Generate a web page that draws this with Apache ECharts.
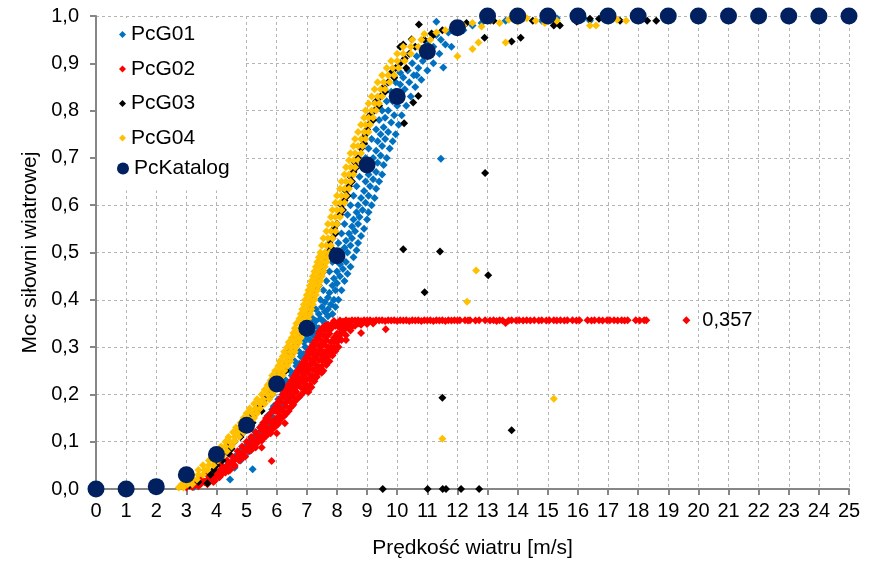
<!DOCTYPE html>
<html><head><meta charset="utf-8">
<script src="https://cdn.jsdelivr.net/npm/echarts/dist/echarts.min.js"></script>
<style>html,body{margin:0;padding:0;background:#fff}#c{width:873px;height:565px}</style>
</head><body><div id="c"></div><script>
const seriesNames = ['PcG01','PcG02','PcG03','PcG04','PcKatalog'];
const xTitle = 'Prędkość wiatru [m/s]';
const yTitle = 'Moc siłowni wiatrowej';

const pcKatalog = [[0,0],[1,0],[2,0.005],[3,0.03],[4,0.073],[5,0.135],[6,0.222],[7,0.34],[8,0.493],[9,0.685],[10,0.83],[11,0.925],[12,0.975],[13,1],[14,1],[15,1],[16,1],[17,1],[18,1],[19,1],[20,1],[21,1],[22,1],[23,1],[24,1],[25,1]];

const pcG01 = [[3.25,0.004],[3.35,0.012],[3.6,0.015],[3.75,0.022],[3.9,0.02],[4.0,0.032],[4.1,0.028],[4.2,0.04],[4.3,0.038],[4.45,0.02],[4.35,0.05],[4.45,0.055],[4.55,0.06],[4.6,0.068],[4.7,0.072],[4.8,0.078],[4.85,0.085],[4.95,0.09],[5.05,0.095],[5.2,0.042],[5.1,0.1],[5.15,0.108],[5.25,0.112],[5.3,0.12],[5.4,0.118],[5.45,0.13],[5.5,0.135],[5.6,0.14],[5.65,0.148],[5.7,0.155],[5.8,0.16],[5.85,0.168],[5.9,0.175],[6.0,0.18],[6.05,0.19],[6.1,0.185],[6.2,0.2],[6.15,0.21],[6.3,0.205],[6.35,0.22],[6.3,0.23],[6.45,0.225],[6.5,0.24],[6.45,0.25],[6.6,0.245],[6.65,0.26],[6.6,0.27],[6.75,0.265],[6.8,0.28],[6.75,0.29],[6.9,0.285],[6.95,0.3],[7.05,0.295],[6.9,0.31],[7.1,0.315],[7.0,0.32],[7.2,0.325],[7.1,0.335],[7.3,0.33],[7.25,0.345],[7.4,0.34],[7.3,0.355],[7.45,0.36],[7.55,0.355],[7.4,0.37],[7.6,0.375],[7.5,0.385],[7.7,0.38],[7.6,0.395],[7.8,0.39],[7.7,0.405],[7.9,0.4],[7.75,0.415],[7.95,0.42],[7.85,0.43],[8.0,0.435],[7.9,0.445],[8.1,0.45],[8.0,0.46],[8.2,0.465],[8.1,0.475],[8.3,0.48],[8.15,0.49],[8.35,0.5],[8.25,0.51],[8.45,0.515],[8.3,0.525],[8.5,0.53],[8.4,0.54],[8.6,0.545],[8.5,0.555],[8.7,0.56],[8.55,0.57],[8.75,0.575],[8.65,0.585],[8.85,0.59],[8.7,0.6],[8.95,0.605],[8.8,0.615],[9.05,0.62],[8.9,0.63],[9.1,0.64],[8.95,0.65],[9.2,0.655],[9.05,0.665],[9.3,0.67],[9.1,0.68],[9.35,0.69],[9.2,0.7],[9.45,0.705],[9.3,0.715],[9.5,0.725],[9.35,0.735],[9.6,0.74],[9.45,0.75],[9.7,0.755],[9.55,0.765],[9.8,0.775],[9.6,0.785],[9.9,0.79],[9.7,0.8],[10.0,0.81],[9.85,0.82],[10.1,0.83],[9.95,0.84],[10.25,0.845],[10.1,0.855],[10.4,0.86],[10.2,0.87],[10.55,0.875],[10.35,0.885],[10.7,0.89],[10.5,0.9],[10.85,0.905],[10.65,0.915],[11.0,0.92],[10.8,0.93],[11.2,0.935],[11.0,0.945],[11.45,0.95],[11.3,0.96],[11.7,0.965],[11.9,0.975],[12.2,0.97],[12.5,0.98],[12.8,0.985],[13.1,0.99],[13.6,0.99],[14.2,0.995],[14.8,0.99],[15.3,0.995],[16.2,0.995],[16.4,0.99],[11.45,0.698],[11.53,0.891],[11.8,0.935],[11.3,0.988],[10.65,0.875],
[6.45,0.195],[6.55,0.215],[6.7,0.235],[6.85,0.255],[6.95,0.275],[7.1,0.29],[7.25,0.305],[7.35,0.32],[7.45,0.335],[7.6,0.35],[7.7,0.365],[7.85,0.37],[7.95,0.385],[8.05,0.4],[8.15,0.42],[8.25,0.44],[8.35,0.455],[8.45,0.47],[8.55,0.49],[8.65,0.505],[8.7,0.52],[8.8,0.535],[8.9,0.55],[9.0,0.57],[9.05,0.585],[9.15,0.6],[9.25,0.615],[9.3,0.635],[9.4,0.65],[9.5,0.665],[9.55,0.685],[9.65,0.7],[9.75,0.72],[9.85,0.735],[9.95,0.75],[10.05,0.77],[10.15,0.79],[10.3,0.81],[10.45,0.83],[10.6,0.85],[10.8,0.865],[11.0,0.885],[11.2,0.9],[11.4,0.92],[11.6,0.94],
[7.2,0.36],[7.3,0.38],[7.45,0.4],[7.55,0.42],[7.65,0.44],[7.75,0.46],[7.85,0.48],[7.95,0.5],[8.05,0.52],[8.15,0.54],[8.25,0.56],[8.35,0.58],[8.45,0.6],[8.55,0.62],[8.65,0.64],[8.75,0.66],[8.85,0.68],[8.95,0.7],[9.05,0.72],[9.15,0.74],[9.3,0.76],[9.4,0.78],[9.5,0.8],[9.65,0.82],[9.8,0.84],[9.95,0.86],[10.1,0.88],
[5.3,0.095],[5.45,0.105],[5.6,0.12],[5.75,0.135],[5.9,0.15],[6.05,0.165],[6.2,0.175],[6.35,0.19],[4.6,0.045],[4.8,0.06],[4.95,0.07],[5.1,0.08]];

const pcG02 = [[3.0,0.003],[3.2,0.004],[3.4,0.006],[3.3,0.01],[3.5,0.012],[3.7,0.01],[3.5,0.02],[3.75,0.022],[3.95,0.018],[3.7,0.03],[3.95,0.028],[4.2,0.032],[3.95,0.04],[4.15,0.042],[4.4,0.038],[4.15,0.05],[4.4,0.052],[4.6,0.048],[4.35,0.06],[4.55,0.058],[4.8,0.062],[4.5,0.07],[4.75,0.072],[4.95,0.068],[4.7,0.08],[4.9,0.078],[5.15,0.082],[4.85,0.09],[5.1,0.092],[5.3,0.088],[5.0,0.1],[5.25,0.1],[5.5,0.102],[5.15,0.11],[5.4,0.108],[5.65,0.112],[5.3,0.12],[5.55,0.122],[5.8,0.118],[5.45,0.13],[5.7,0.128],[5.95,0.132],[5.55,0.14],[5.8,0.142],[6.05,0.138],[5.65,0.15],[5.95,0.148],[6.2,0.152],[5.8,0.16],[6.05,0.162],[6.3,0.158],[5.9,0.17],[6.15,0.168],[6.45,0.172],[6.0,0.18],[6.3,0.182],[6.55,0.178],[6.1,0.19],[6.4,0.188],[6.7,0.192],[6.2,0.2],[6.5,0.202],[6.8,0.198],[6.3,0.21],[6.6,0.208],[6.9,0.212],[6.4,0.22],[6.7,0.222],[7.0,0.218],[6.5,0.23],[6.8,0.228],[7.1,0.232],[6.6,0.24],[6.9,0.242],[7.2,0.238],[6.7,0.25],[7.0,0.248],[7.3,0.252],[6.8,0.26],[7.1,0.262],[7.4,0.258],[6.9,0.27],[7.2,0.268],[7.5,0.272],[7.0,0.28],[7.3,0.282],[7.6,0.278],[7.05,0.29],[7.4,0.288],[7.7,0.292],[7.15,0.3],[7.45,0.302],[7.8,0.298],[7.25,0.31],[7.55,0.308],[7.9,0.312],[7.35,0.32],[7.65,0.322],[8.0,0.318],[7.4,0.33],[7.75,0.328],[8.15,0.332],[7.5,0.34],[7.85,0.342],[8.25,0.338],[8.5,0.343],[7.7,0.348],[8.0,0.35],[8.35,0.348],[8.7,0.35],[9.0,0.349],
[3.6,0.015],[3.85,0.025],[4.05,0.035],[4.3,0.045],[4.5,0.055],[4.65,0.065],[4.85,0.072],[5.0,0.085],[5.2,0.095],[5.35,0.097],[5.55,0.107],[5.7,0.117],[5.85,0.126],[6.0,0.135],[6.1,0.145],[6.25,0.155],[6.4,0.165],[6.5,0.175],[6.6,0.185],[6.75,0.195],[6.9,0.205],[7.0,0.21],[7.1,0.22],[7.2,0.23],[7.3,0.24],[7.4,0.25],[7.5,0.26],[7.6,0.27],[7.7,0.28],[7.8,0.29],[7.9,0.3],[8.0,0.31],[8.1,0.325],[8.2,0.335],[8.4,0.34],[8.6,0.345],[8.8,0.347],[9.2,0.35],
[6.35,0.215],[6.45,0.225],[6.55,0.235],[6.65,0.245],[6.75,0.255],[6.85,0.265],[6.95,0.275],[7.05,0.285],[7.1,0.295],[7.2,0.305],[7.3,0.315],[7.4,0.325],[7.45,0.335],[7.6,0.345],[5.95,0.165],[6.05,0.175],[6.15,0.185],[6.25,0.195],[5.6,0.135],[5.7,0.145],[5.75,0.155],[5.2,0.105],[5.35,0.115],[5.5,0.125],
[6.65,0.215],[6.75,0.225],[6.85,0.235],[6.95,0.245],[7.05,0.255],[7.15,0.265],[7.25,0.275],[7.35,0.285],[7.45,0.295],[7.55,0.305],[7.65,0.315],[7.75,0.335],[7.95,0.345],[8.15,0.347],[8.45,0.352],[8.65,0.353],[8.9,0.354],
[6.45,0.185],[6.55,0.195],[6.65,0.205],[6.8,0.215],[6.9,0.225],[7.0,0.232],[7.1,0.242],[7.2,0.252],[7.3,0.262],[7.4,0.272],[7.5,0.282],[7.6,0.29],[7.7,0.3],[7.8,0.31],[7.9,0.32],[8.0,0.328],[8.1,0.34],[8.3,0.345],
[6.2,0.165],[6.3,0.175],[6.1,0.155],[6.0,0.148],[5.9,0.14],[5.8,0.13],[5.65,0.12],[5.5,0.11],[5.35,0.1],[5.2,0.09],[5.05,0.08],[4.9,0.07],[4.75,0.06],[4.6,0.05],[4.45,0.04],[4.3,0.035],[4.1,0.025],[3.9,0.015],
[6.25,0.205],[6.35,0.2],[6.45,0.21],[6.55,0.22],[6.6,0.23],[6.7,0.238],[6.8,0.248],[6.9,0.258],[7.0,0.265],[7.1,0.275],[7.2,0.285],[7.25,0.295],[7.35,0.305],[7.45,0.315],[7.55,0.325],[7.6,0.335],[7.7,0.34],[7.85,0.35],
[7.05,0.205],[7.15,0.215],[7.25,0.228],[7.35,0.245],[7.55,0.25],[7.65,0.262],[7.75,0.27],[7.85,0.282],[7.95,0.292],[8.05,0.3],[8.15,0.315],[8.3,0.325],[8.45,0.335],
[7.9,0.355],[8.1,0.356],[8.2,0.354],[8.3,0.357],[8.4,0.355],[8.5,0.357],[8.6,0.356],[8.7,0.357],[8.8,0.355],[8.9,0.357],[9.0,0.356],[9.1,0.357],[9.2,0.355],[9.3,0.357],[9.4,0.356],[9.5,0.357],[9.6,0.355],[9.7,0.357],[9.8,0.356],[9.9,0.357],[10.0,0.355],[10.1,0.357],[10.2,0.356],[10.3,0.357],[10.4,0.355],[10.5,0.357],[10.6,0.356],[10.7,0.357],[10.8,0.355],[10.9,0.357],[11.0,0.356],[11.1,0.357],[11.2,0.355],[11.3,0.357],[11.4,0.356],[11.5,0.357],[11.6,0.355],[11.7,0.357],[11.8,0.356],[11.9,0.357],[12.0,0.356],[12.08,0.357],[12.25,0.357],[12.35,0.356],[12.42,0.357],[12.6,0.356],[12.72,0.357],[12.92,0.357],[13.08,0.356],[13.2,0.357],[13.3,0.355],[13.4,0.357],[13.5,0.356],[13.6,0.351],[13.7,0.356],[13.8,0.357],[13.95,0.356],[14.05,0.357],[14.18,0.356],[14.3,0.357],[14.42,0.356],[14.55,0.357],[14.7,0.356],[14.8,0.357],[14.95,0.356],[15.05,0.357],[15.2,0.357],[15.3,0.356],[15.42,0.357],[15.55,0.356],[15.65,0.357],[15.82,0.357],[15.95,0.356],[16.05,0.357],[16.32,0.357],[16.45,0.356],[16.55,0.357],[16.7,0.357],[16.82,0.356],[16.97,0.357],[17.06,0.357],[17.2,0.357],[17.32,0.356],[17.45,0.357],[17.55,0.356],[17.65,0.357],[17.92,0.357],[18.05,0.356],[18.2,0.357],[18.27,0.357],
[9.62,0.338],[5.83,0.059],[6.27,0.139],[7.33,0.237],[7.49,0.246],[6.0,0.118],[5.5,0.088],[7.7,0.29],[8.3,0.315],[8.8,0.33],[4.2,0.047],
[19.6,0.357]];

const pcG03 = [[3.1,0.008],[3.7,0.012],[3.8,0.03],[4.0,0.05],[4.2,0.06],[4.4,0.075],[4.35,0.09],[4.6,0.1],[4.8,0.11],[4.75,0.125],[5.0,0.13],[5.1,0.15],[5.3,0.16],[5.45,0.175],[5.6,0.19],[5.75,0.2],[5.9,0.215],[6.0,0.235],[6.1,0.245],[6.25,0.26],[6.35,0.27],[6.4,0.29],[6.55,0.3],[6.7,0.31],[6.75,0.33],[6.85,0.34],[6.9,0.36],[7.05,0.37],[7.1,0.39],[7.2,0.41],[7.3,0.42],[7.35,0.44],[7.45,0.45],[7.5,0.47],[7.6,0.48],[7.7,0.5],[7.75,0.52],[7.85,0.53],[7.9,0.55],[8.0,0.56],[8.1,0.58],[8.15,0.6],[8.25,0.61],[8.3,0.63],[8.4,0.64],[8.45,0.66],[8.55,0.67],[8.6,0.69],[8.7,0.7],[8.8,0.72],[8.85,0.74],[8.95,0.75],[9.05,0.77],[9.1,0.79],[9.25,0.8],[9.3,0.82],[9.45,0.83],[9.55,0.85],[9.7,0.86],[9.8,0.88],[9.95,0.89],[10.1,0.9],[10.25,0.91],[10.4,0.92],[10.6,0.935],[10.2,0.94],[10.9,0.95],[11.2,0.96],[11.5,0.97],[11.9,0.975],[12.3,0.985],[12.9,0.954],[13.8,0.946],[14.1,0.954],[13.2,0.99],[14.5,0.99],[15.2,0.98],[15.4,0.98],[15.96,0.988],[16.4,0.994],[16.7,0.994],[17.4,0.99],[18.3,0.99],[18.6,0.99],
[6.15,0.225],[6.5,0.285],[6.95,0.35],[7.15,0.38],[7.4,0.43],[7.55,0.46],[7.65,0.49],[7.8,0.51],[7.95,0.54],[8.2,0.59],[8.35,0.62],[8.5,0.65],[8.65,0.68],[8.9,0.73],[9.0,0.76],[9.2,0.78],[9.4,0.81],[9.6,0.84],[9.9,0.87],[10.3,0.89],[4.9,0.12],[5.2,0.14],[5.5,0.165],[5.85,0.2],[6.3,0.25],[3.4,0.015],[3.9,0.04],[4.5,0.085],
[10.23,0.773],[10.7,0.831],[10.53,0.817],[10.72,0.982],[10.48,0.951],[10.1,0.935],[11.14,0.963],[12.92,0.668],[11.42,0.502],[10.2,0.507],[13.02,0.452],[10.91,0.416],[11.5,0.193],[13.8,0.124],[9.52,0],[11.01,0],[11.51,0],[11.62,0],[12.12,0],[12.72,0]];

const pcG04 = [[2.75,0.003],[2.9,0.003],[2.85,0.01],[3.05,0.01],[3.2,0.01],[3.0,0.02],[3.2,0.02],[3.35,0.02],[3.2,0.03],[3.4,0.03],[3.55,0.03],[3.4,0.04],[3.6,0.04],[3.7,0.04],[3.55,0.05],[3.75,0.05],[3.9,0.05],[3.75,0.06],[3.9,0.06],[4.05,0.06],[3.85,0.07],[4.05,0.07],[4.2,0.07],[4.0,0.08],[4.2,0.08],[4.35,0.08],[4.15,0.09],[4.3,0.09],[4.5,0.09],[4.3,0.1],[4.45,0.1],[4.6,0.1],[4.4,0.11],[4.6,0.11],[4.75,0.11],[4.55,0.12],[4.7,0.12],[4.9,0.12],[4.65,0.13],[4.85,0.13],[5.0,0.13],[4.8,0.14],[4.95,0.14],[5.1,0.14],[4.9,0.15],[5.05,0.15],[5.25,0.15],[5.0,0.16],[5.2,0.16],[5.35,0.16],[5.1,0.17],[5.3,0.17],[5.45,0.17],[5.25,0.18],[5.45,0.18],[5.6,0.18],[5.35,0.19],[5.55,0.19],[5.75,0.19],[5.5,0.2],[5.7,0.2],[5.85,0.2],[5.6,0.21],[5.8,0.21],[5.95,0.21],[5.7,0.22],[5.85,0.22],[6.0,0.22],[5.8,0.23],[5.95,0.23],[6.1,0.23],[5.85,0.24],[6.05,0.24],[6.2,0.24],[5.95,0.25],[6.1,0.25],[6.25,0.25],[6.05,0.26],[6.2,0.26],[6.35,0.26],[6.1,0.27],[6.3,0.27],[6.45,0.27],[6.2,0.28],[6.35,0.28],[6.5,0.28],[6.25,0.29],[6.45,0.29],[6.6,0.29],[6.35,0.3],[6.5,0.3],[6.65,0.3],[6.4,0.31],[6.6,0.31],[6.75,0.31],[6.5,0.32],[6.65,0.32],[6.8,0.32],[6.55,0.33],[6.7,0.33],[6.85,0.33],[6.6,0.34],[6.8,0.34],[6.9,0.34],[6.65,0.35],[6.85,0.35],[6.95,0.35],[6.75,0.36],[6.9,0.36],[7.05,0.36],[6.8,0.37],[6.95,0.37],[7.1,0.37],[6.85,0.38],[7.0,0.38],[7.15,0.38],[6.9,0.39],[7.05,0.39],[7.2,0.39],[6.95,0.4],[7.1,0.4],[7.25,0.4],[7.0,0.41],[7.15,0.41],[7.3,0.41],[7.05,0.42],[7.2,0.42],[7.35,0.42],[7.1,0.43],[7.25,0.43],[7.4,0.43],[7.15,0.44],[7.3,0.44],[7.45,0.44],[7.2,0.45],[7.35,0.45],[7.5,0.45],[7.25,0.46],[7.4,0.46],[7.55,0.46],[7.3,0.47],[7.45,0.47],[7.6,0.47],[7.35,0.48],[7.5,0.48],[7.65,0.48],[7.4,0.49],[7.55,0.49],[7.7,0.49],[7.45,0.5],[7.6,0.5],[7.75,0.5],
[7.5,0.515],[7.65,0.515],[7.8,0.515],[7.55,0.53],[7.7,0.53],[7.85,0.53],[7.65,0.545],[7.8,0.545],[7.95,0.545],[7.7,0.56],[7.85,0.56],[8.0,0.56],[7.8,0.575],[7.95,0.575],[8.1,0.575],[7.85,0.59],[8.0,0.59],[8.15,0.59],[7.95,0.605],[8.1,0.605],[8.25,0.605],[8.0,0.62],[8.15,0.62],[8.3,0.62],[8.1,0.635],[8.25,0.635],[8.4,0.635],[8.15,0.65],[8.3,0.65],[8.45,0.65],[8.25,0.665],[8.4,0.665],[8.55,0.665],[8.3,0.68],[8.45,0.68],[8.6,0.68],[8.4,0.695],[8.55,0.695],[8.7,0.695],[8.45,0.71],[8.6,0.71],[8.8,0.71],[8.55,0.725],[8.7,0.725],[8.85,0.725],[8.6,0.74],[8.8,0.74],[8.95,0.74],[8.7,0.755],[8.9,0.755],[9.05,0.755],[8.8,0.77],[8.95,0.77],[9.1,0.77],[8.9,0.785],[9.05,0.785],[9.2,0.785],[8.95,0.8],[9.15,0.8],[9.3,0.8],[9.05,0.815],[9.25,0.815],[9.4,0.815],[9.15,0.83],[9.35,0.83],[9.5,0.83],[9.25,0.845],[9.45,0.845],[9.6,0.845],[9.35,0.86],[9.55,0.86],[9.75,0.86],[9.5,0.875],[9.7,0.875],[9.9,0.875],[9.65,0.89],[9.85,0.89],[10.05,0.89],[9.8,0.905],[10.0,0.905],[10.25,0.905],[10.0,0.92],[10.2,0.92],[10.45,0.92],[10.2,0.935],[10.45,0.935],[10.7,0.935],[10.5,0.95],[10.8,0.95],[11.1,0.95],[10.9,0.962],[11.3,0.965],[11.6,0.97],[11.9,0.975],[12.2,0.98],[12.5,0.985],[12.8,0.978],[13.1,0.99],[13.4,0.985],[13.7,0.992],[14.0,0.988],[14.3,0.995],[14.6,0.99],[14.9,0.985],[15.3,0.99],[16.4,0.98],[16.6,0.98],[17.3,0.992],[17.6,0.99],
[12.0,0.915],[12.5,0.93],[12.7,0.944],[13.6,0.944],[11.5,0.106],[12.32,0.396],[12.62,0.462],[15.2,0.191]];

const font = "'Liberation Sans', Arial, sans-serif";
const comma = (v, d) => v.toFixed(d).replace('.', ',');
const labelIdx = pcG02.length - 1;
const redData = pcG02.map((d, i) => i === labelIdx ? {
  value: d,
  label: {show: true, position: 'right', distance: 12, color: '#000', fontSize: 20, fontFamily: font,
    formatter: p => comma(p.value[1], 3)}
} : d);

const chart = echarts.init(document.getElementById('c'), null, {renderer: 'canvas'});
const dia = {type: 'scatter', symbol: 'diamond', symbolSize: 8, clip: false, silent: true};
chart.setOption({
  animation: false,
  backgroundColor: '#fff',
  textStyle: {fontFamily: font},
  grid: {left: 96, right: 24, top: 16, bottom: 76},
  xAxis: {
    type: 'value', min: 0, max: 25, interval: 1,
    name: xTitle, nameLocation: 'middle', nameGap: 49,
    nameTextStyle: {fontSize: 21, color: '#000', fontFamily: font},
    axisLine: {show: true, onZero: false, lineStyle: {color: '#868686', width: 2}},
    axisTick: {show: true, length: 6, lineStyle: {color: '#868686', width: 2}},
    axisLabel: {fontSize: 20, color: '#000', margin: 12, fontFamily: font},
    splitLine: {show: true, lineStyle: {color: '#b4b4b4', type: [3, 3], width: 1}}
  },
  yAxis: {
    type: 'value', min: 0, max: 1, interval: 0.1,
    name: yTitle, nameLocation: 'middle', nameGap: 55, nameRotate: 90,
    nameTextStyle: {fontSize: 21, color: '#000', fontFamily: font},
    axisLine: {show: true, onZero: false, lineStyle: {color: '#868686', width: 2}},
    axisTick: {show: true, length: 6, lineStyle: {color: '#868686', width: 2}},
    axisLabel: {fontSize: 20, color: '#000', margin: 17, fontFamily: font, formatter: v => comma(v, 1)},
    splitLine: {show: true, lineStyle: {color: '#b4b4b4', type: [3, 3], width: 1}}
  },
  legend: [{
    data: seriesNames.slice(0, 4), orient: 'vertical', left: 97, top: 18,
    padding: [6, 50, 42, 22], itemGap: 13.5, itemWidth: 7, itemHeight: 7,
    backgroundColor: '#fff', selectedMode: false,
    textStyle: {fontSize: 21, color: '#000', fontFamily: font, lineHeight: 20}
  }, {
    data: [seriesNames[4]], orient: 'vertical', left: 97, top: 158,
    padding: [0, 0, 0, 20], itemWidth: 12, itemHeight: 12, selectedMode: false,
    textStyle: {fontSize: 21, color: '#000', fontFamily: font, lineHeight: 20}
  }],
  series: [
    Object.assign({}, dia, {name: seriesNames[0], data: pcG01, itemStyle: {color: '#0070C0', opacity: 1}}),
    Object.assign({}, dia, {name: seriesNames[1], data: redData, itemStyle: {color: '#FF0000', opacity: 1}}),
    Object.assign({}, dia, {name: seriesNames[2], data: pcG03, itemStyle: {color: '#000000', opacity: 1}}),
    Object.assign({}, dia, {name: seriesNames[3], data: pcG04, itemStyle: {color: '#FFC000', opacity: 1}}),
    {type: 'scatter', name: seriesNames[4], data: pcKatalog, symbol: 'circle', symbolSize: 17, clip: false, silent: true, itemStyle: {color: '#002060', opacity: 1}}
  ]
});
</script></body></html>
